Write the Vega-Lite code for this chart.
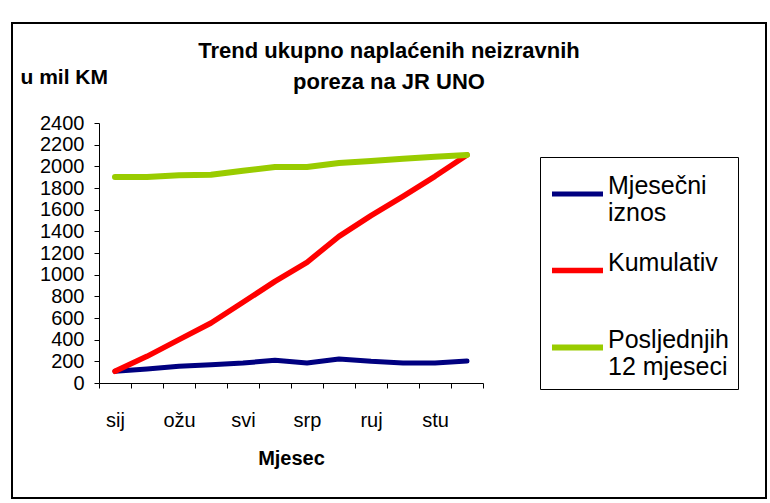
{
  "$schema": "https://vega.github.io/schema/vega-lite/v6.json",
  "autosize": "none",
  "width": 754,
  "height": 475,
  "padding": {"left": 12, "top": 23, "right": 4, "bottom": 5},
  "background": "white",
  "config": {
    "font": "Liberation Sans",
    "view": {"stroke": "black", "strokeWidth": 2, "fill": "white"}
  },
  "title": {
    "text": ["Trend ukupno naplaćenih neizravnih", "poreza na JR UNO"],
    "fontSize": 22,
    "fontWeight": "bold",
    "font": "Liberation Sans",
    "color": "black",
    "lineHeight": 31,
    "anchor": "middle",
    "frame": "group",
    "baseline": "top",
    "offset": -71
  },
  "data": {
    "values": [
      {"mjesec": "sij", "serija": "Mjesečni iznos", "iznos": 108},
      {"mjesec": "velj", "serija": "Mjesečni iznos", "iznos": 129},
      {"mjesec": "ožu", "serija": "Mjesečni iznos", "iznos": 154},
      {"mjesec": "tra", "serija": "Mjesečni iznos", "iznos": 169},
      {"mjesec": "svi", "serija": "Mjesečni iznos", "iznos": 185},
      {"mjesec": "lip", "serija": "Mjesečni iznos", "iznos": 209},
      {"mjesec": "srp", "serija": "Mjesečni iznos", "iznos": 185},
      {"mjesec": "kol", "serija": "Mjesečni iznos", "iznos": 222},
      {"mjesec": "ruj", "serija": "Mjesečni iznos", "iznos": 200},
      {"mjesec": "lis", "serija": "Mjesečni iznos", "iznos": 185},
      {"mjesec": "stu", "serija": "Mjesečni iznos", "iznos": 185},
      {"mjesec": "pro", "serija": "Mjesečni iznos", "iznos": 203},
      {"mjesec": "sij", "serija": "Kumulativ", "iznos": 108},
      {"mjesec": "velj", "serija": "Kumulativ", "iznos": 246},
      {"mjesec": "ožu", "serija": "Kumulativ", "iznos": 400},
      {"mjesec": "tra", "serija": "Kumulativ", "iznos": 554},
      {"mjesec": "svi", "serija": "Kumulativ", "iznos": 745},
      {"mjesec": "lip", "serija": "Kumulativ", "iznos": 938},
      {"mjesec": "srp", "serija": "Kumulativ", "iznos": 1114},
      {"mjesec": "kol", "serija": "Kumulativ", "iznos": 1354},
      {"mjesec": "ruj", "serija": "Kumulativ", "iznos": 1545},
      {"mjesec": "lis", "serija": "Kumulativ", "iznos": 1723},
      {"mjesec": "stu", "serija": "Kumulativ", "iznos": 1908},
      {"mjesec": "pro", "serija": "Kumulativ", "iznos": 2105},
      {"mjesec": "sij", "serija": "Posljednjih 12 mjeseci", "iznos": 1901},
      {"mjesec": "velj", "serija": "Posljednjih 12 mjeseci", "iznos": 1901},
      {"mjesec": "ožu", "serija": "Posljednjih 12 mjeseci", "iznos": 1917},
      {"mjesec": "tra", "serija": "Posljednjih 12 mjeseci", "iznos": 1923},
      {"mjesec": "svi", "serija": "Posljednjih 12 mjeseci", "iznos": 1960},
      {"mjesec": "lip", "serija": "Posljednjih 12 mjeseci", "iznos": 1994},
      {"mjesec": "srp", "serija": "Posljednjih 12 mjeseci", "iznos": 1994},
      {"mjesec": "kol", "serija": "Posljednjih 12 mjeseci", "iznos": 2031},
      {"mjesec": "ruj", "serija": "Posljednjih 12 mjeseci", "iznos": 2049},
      {"mjesec": "lis", "serija": "Posljednjih 12 mjeseci", "iznos": 2071},
      {"mjesec": "stu", "serija": "Posljednjih 12 mjeseci", "iznos": 2089},
      {"mjesec": "pro", "serija": "Posljednjih 12 mjeseci", "iznos": 2105}
    ]
  },
  "mark": {"type": "line", "strokeCap": "round", "strokeJoin": "round"},
  "encoding": {
    "x": {
      "field": "mjesec",
      "type": "ordinal",
      "sort": ["sij", "velj", "ožu", "tra", "svi", "lip", "srp", "kol", "ruj", "lis", "stu", "pro"],
      "bandPosition": 0.5,
      "scale": {"type": "band", "paddingInner": 0, "paddingOuter": 0, "range": [87, 471]},
      "axis": {
        "title": "Mjesec",
        "titleFontSize": 20,
        "titleFontWeight": "bold",
        "titleColor": "black",
        "titleBaseline": "middle",
        "titleY": 75,
        "offset": -115,
        "labelAngle": 0,
        "labelFontSize": 20,
        "labelColor": "black",
        "labelBaseline": "alphabetic",
        "labelPadding": 38,
        "labelOverlap": false,
        "labelExpr": "indexof(['sij','ožu','svi','srp','ruj','stu'], datum.value) >= 0 ? datum.value : ''",
        "tickBand": "extent",
        "tickSize": 5,
        "tickColor": "black",
        "domainColor": "black",
        "grid": false
      }
    },
    "y": {
      "field": "iznos",
      "type": "quantitative",
      "scale": {"domain": [0, 2400], "range": [360, 100], "nice": false},
      "axis": {
        "title": "u mil KM",
        "titleAngle": 0,
        "titleAlign": "left",
        "titleBaseline": "middle",
        "titleX": -79,
        "titleY": 54,
        "titleFontSize": 21,
        "titleFontWeight": "bold",
        "titleColor": "black",
        "offset": -87,
        "values": [0, 200, 400, 600, 800, 1000, 1200, 1400, 1600, 1800, 2000, 2200, 2400],
        "format": "d",
        "labelFontSize": 20,
        "labelColor": "black",
        "labelPadding": 10,
        "labelOverlap": false,
        "labelBaseline": "middle",
        "tickSize": 5,
        "tickColor": "black",
        "domainColor": "black",
        "grid": false
      }
    },
    "color": {
      "field": "serija",
      "type": "nominal",
      "sort": ["Mjesečni iznos", "Kumulativ", "Posljednjih 12 mjeseci"],
      "scale": {
        "domain": ["Mjesečni iznos", "Kumulativ", "Posljednjih 12 mjeseci"],
        "range": ["#000080", "#FF0000", "#99CC00"]
      },
      "legend": {
        "title": null,
        "orient": "none",
        "legendX": 528,
        "legendY": 134,
        "strokeColor": "black",
        "padding": 9,
        "symbolType": "stroke",
        "symbolSize": 2601,
        "symbolStrokeWidth": 5,
        "labelFontSize": 25,
        "labelColor": "black",
        "labelOffset": 2,
        "labelLimit": 300,
        "labelBaseline": "alphabetic",
        "rowPadding": 16,
        "labelExpr": "datum.label == 'Mjesečni iznos' ? ['Mjesečni', 'iznos'] : datum.label == 'Posljednjih 12 mjeseci' ? ['Posljednjih', '12 mjeseci'] : [datum.label, '']"
      }
    },
    "strokeWidth": {
      "field": "serija",
      "type": "nominal",
      "scale": {
        "domain": ["Mjesečni iznos", "Kumulativ", "Posljednjih 12 mjeseci"],
        "range": [5, 6, 4]
      },
      "legend": null
    }
  }
}
